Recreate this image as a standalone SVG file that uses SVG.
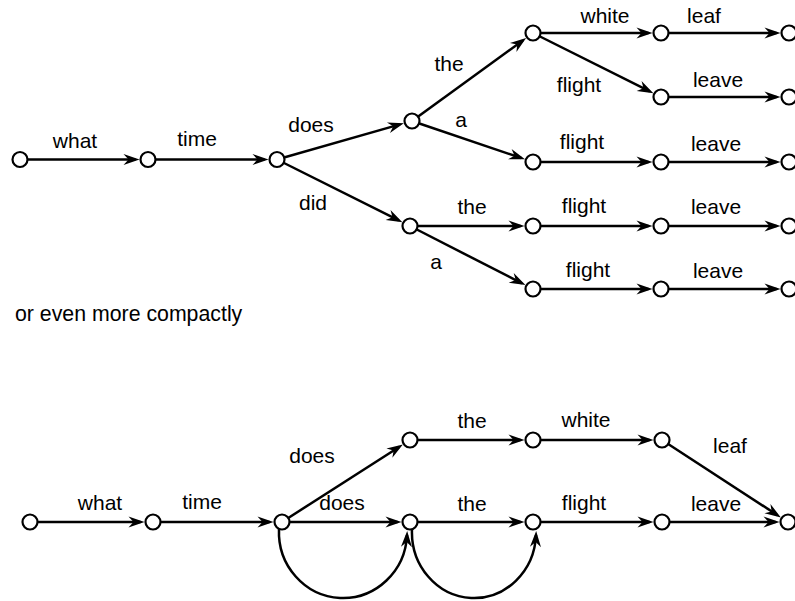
<svg xmlns="http://www.w3.org/2000/svg" width="795" height="601" viewBox="0 0 795 601">
<style>
.n{fill:#fff;stroke:#000;stroke-width:2.2}
.e{fill:none;stroke:#000;stroke-width:2.5;marker-end:url(#ah)}
text{font-family:"Liberation Sans",Arial,sans-serif;font-size:21px;fill:#000}
.l{text-anchor:middle}
.c{font-size:21.3px}
</style>
<defs>
<marker id="ah" markerUnits="userSpaceOnUse" viewBox="-17 -6 18 12" markerWidth="18" markerHeight="12" refX="-4" refY="0" orient="auto">
<path d="M0,0 L-16,-5.5 L-11,0 L-16,5.5 Z" fill="#000"/>
</marker>
</defs>
<rect width="795" height="601" fill="#fff"/>
<g id="connectors">
<line class="e" x1="20" y1="159.5" x2="135.5" y2="159.5"/>
<line class="e" x1="148" y1="159.5" x2="264.5" y2="159.5"/>
<line class="e" x1="277" y1="159.5" x2="400" y2="124.4"/>
<line class="e" x1="277" y1="159.5" x2="398.8" y2="220.4"/>
<line class="e" x1="412" y1="121" x2="522.9" y2="40.4"/>
<line class="e" x1="412" y1="121" x2="521.2" y2="158"/>
<line class="e" x1="533" y1="33" x2="648.5" y2="33"/>
<line class="e" x1="661" y1="33" x2="776.5" y2="33"/>
<line class="e" x1="533" y1="33" x2="649.8" y2="91.4"/>
<line class="e" x1="661" y1="97" x2="776.5" y2="97"/>
<line class="e" x1="533" y1="162" x2="648.5" y2="162"/>
<line class="e" x1="661" y1="162" x2="776.5" y2="162"/>
<line class="e" x1="410" y1="226" x2="520.5" y2="226"/>
<line class="e" x1="533" y1="226" x2="648.5" y2="226"/>
<line class="e" x1="661" y1="226" x2="776.5" y2="226"/>
<line class="e" x1="410" y1="226" x2="521.9" y2="283.3"/>
<line class="e" x1="533" y1="289" x2="648.5" y2="289"/>
<line class="e" x1="661" y1="289" x2="776.5" y2="289"/>
<line class="e" x1="30" y1="522" x2="140.5" y2="522"/>
<line class="e" x1="153" y1="522" x2="269.5" y2="522"/>
<line class="e" x1="282" y1="522" x2="399.5" y2="446.7"/>
<line class="e" x1="282" y1="522" x2="397.5" y2="522"/>
<line class="e" x1="410" y1="440" x2="520.5" y2="440"/>
<line class="e" x1="533" y1="440" x2="649.5" y2="440"/>
<line class="e" x1="662" y1="440" x2="777.5" y2="515.2"/>
<line class="e" x1="410" y1="522" x2="520.5" y2="522"/>
<line class="e" x1="533" y1="522" x2="649.5" y2="522"/>
<line class="e" x1="662" y1="522" x2="775.5" y2="522"/>
<path class="e" d="M279,529 A64,66 0 0 0 407,535"/>
<path class="e" d="M412,529 A62,66 0 0 0 536,535"/>
</g>
<g id="labels">
<text class="l" x="75" y="148">what</text>
<text class="l" x="197" y="146">time</text>
<text class="l" x="311" y="132">does</text>
<text class="l" x="313" y="210">did</text>
<text class="l" x="449" y="71">the</text>
<text class="l" x="461" y="127">a</text>
<text class="l" x="605" y="23">white</text>
<text class="l" x="704" y="23">leaf</text>
<text class="l" x="579" y="92">flight</text>
<text class="l" x="718" y="87">leave</text>
<text class="l" x="582" y="149">flight</text>
<text class="l" x="716" y="151">leave</text>
<text class="l" x="472" y="214">the</text>
<text class="l" x="584" y="213">flight</text>
<text class="l" x="716" y="214">leave</text>
<text class="l" x="436" y="269">a</text>
<text class="l" x="588" y="277">flight</text>
<text class="l" x="718" y="278">leave</text>
<text class="c" x="15" y="321">or even more compactly</text>
<text class="l" x="100" y="510">what</text>
<text class="l" x="202" y="509">time</text>
<text class="l" x="312" y="463">does</text>
<text class="l" x="342" y="510">does</text>
<text class="l" x="472" y="428">the</text>
<text class="l" x="586" y="427">white</text>
<text class="l" x="730" y="453">leaf</text>
<text class="l" x="472" y="511">the</text>
<text class="l" x="584" y="510">flight</text>
<text class="l" x="716" y="511">leave</text>
</g>
<g id="n1"><circle class="n" cx="20" cy="159.5" r="7.5"/></g>
<g id="n2"><circle class="n" cx="148" cy="159.5" r="7.5"/></g>
<g id="n3"><circle class="n" cx="277" cy="159.5" r="7.5"/></g>
<g id="n4"><circle class="n" cx="412" cy="121" r="7.5"/></g>
<g id="n5"><circle class="n" cx="410" cy="226" r="7.5"/></g>
<g id="n6"><circle class="n" cx="533" cy="33" r="7.5"/></g>
<g id="n7"><circle class="n" cx="661" cy="33" r="7.5"/></g>
<g id="n8"><circle class="n" cx="789" cy="33" r="7.5"/></g>
<g id="n9"><circle class="n" cx="661" cy="97" r="7.5"/></g>
<g id="n10"><circle class="n" cx="789" cy="97" r="7.5"/></g>
<g id="n11"><circle class="n" cx="533" cy="162" r="7.5"/></g>
<g id="n12"><circle class="n" cx="661" cy="162" r="7.5"/></g>
<g id="n13"><circle class="n" cx="789" cy="162" r="7.5"/></g>
<g id="n14"><circle class="n" cx="533" cy="226" r="7.5"/></g>
<g id="n15"><circle class="n" cx="661" cy="226" r="7.5"/></g>
<g id="n16"><circle class="n" cx="789" cy="226" r="7.5"/></g>
<g id="n17"><circle class="n" cx="533" cy="289" r="7.5"/></g>
<g id="n18"><circle class="n" cx="661" cy="289" r="7.5"/></g>
<g id="n19"><circle class="n" cx="789" cy="289" r="7.5"/></g>
<g id="m1"><circle class="n" cx="30" cy="522" r="7.5"/></g>
<g id="m2"><circle class="n" cx="153" cy="522" r="7.5"/></g>
<g id="m3"><circle class="n" cx="282" cy="522" r="7.5"/></g>
<g id="m4"><circle class="n" cx="410" cy="440" r="7.5"/></g>
<g id="m5"><circle class="n" cx="410" cy="522" r="7.5"/></g>
<g id="m6"><circle class="n" cx="533" cy="440" r="7.5"/></g>
<g id="m7"><circle class="n" cx="662" cy="440" r="7.5"/></g>
<g id="m8"><circle class="n" cx="533" cy="522" r="7.5"/></g>
<g id="m9"><circle class="n" cx="662" cy="522" r="7.5"/></g>
<g id="m10"><circle class="n" cx="788" cy="522" r="7.5"/></g>
</svg>
